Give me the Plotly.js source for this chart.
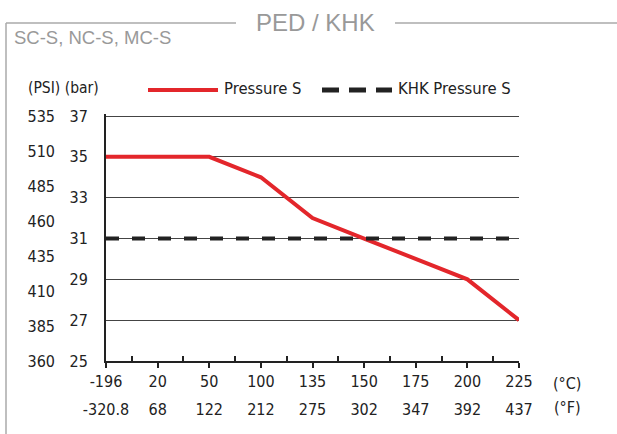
<!DOCTYPE html>
<html><head><meta charset="utf-8">
<script src="https://cdn.plot.ly/plotly-3.0.1.min.js"></script>
<style>html,body{margin:0;padding:0;background:#fff}</style>
</head><body><div id="chart" style="width:617px;height:434px"></div>
<script>
const tempC = ['-196','20','50','100','135','150','175','200','225'];
const tempF = ['-320.8','68','122','212','275','302','347','392','437'];
const pressureS = [35,35,35,34,32,31,30,29,27];
const khkPressureS = [31,31,31,31,31,31,31,31,31];
const barTicks = [25,27,29,31,33,35,37];
const psiTicks = [360,385,410,435,460,485,510,535];
const seriesNames = ['Pressure S','KHK Pressure S'];

const W = 617, H = 434;
const px = v => v / W;
const py = v => 1 - v / H;
const NARROW = "'DejaVu Sans Condensed','Liberation Sans Narrow',sans-serif";
const REG = "'Liberation Sans',Arial,sans-serif";
const TF = 16;
const idx = tempC.map((_, i) => i);
// small headroom above the top tick so its gridline is drawn
const barMin = 25, barMax = 37, pad = 0.1;
const psiMin = 360, psiMax = 535;
const psiPad = pad * (psiMax - psiMin) / (barMax - barMin);

const traces = [
  {x: idx, y: pressureS, type: 'scatter', mode: 'lines', name: seriesNames[0],
   line: {color: '#e3262b', width: 4}, hoverinfo: 'skip'},
  {x: idx, y: khkPressureS, type: 'scatter', mode: 'lines', name: seriesNames[1],
   line: {color: '#222', width: 4, dash: '13px,13px'}, hoverinfo: 'skip'},
  // empty trace so the secondary (°F / PSI) axes are drawn
  {x: [], y: [], xaxis: 'x2', yaxis: 'y2', type: 'scatter', mode: 'lines', showlegend: false, hoverinfo: 'skip'}
];

const layout = {
  width: W, height: H,
  margin: {l: 0, r: 0, t: 0, b: 0},
  paper_bgcolor: '#fff', plot_bgcolor: '#fff',
  showlegend: false,
  font: {family: NARROW, size: TF, color: '#222'},
  xaxis: {
    domain: [px(106), px(519)], range: [0, tempC.length - 1],
    tickmode: 'array', tickvals: idx, ticktext: tempC,
    ticks: 'outside', ticklen: 5, tickwidth: 2, tickcolor: '#222',
    minor: {tickmode: 'linear', tick0: 0.5, dtick: 1, ticks: 'inside', ticklen: 5, tickwidth: 2, tickcolor: '#222', showgrid: false},
    showline: true, linecolor: '#222', linewidth: 2,
    showgrid: false, zeroline: false, fixedrange: true,
    tickfont: {family: NARROW, size: TF, color: '#222'}
  },
  xaxis2: {
    overlaying: 'x', anchor: 'free', position: py(398),
    range: [0, tempC.length - 1],
    tickmode: 'array', tickvals: idx, ticktext: tempF,
    ticks: '', showline: false, showgrid: false, zeroline: false,
    tickfont: {family: NARROW, size: TF, color: '#222'}
  },
  yaxis: {
    domain: [py(361), py(114)], range: [barMin, barMax + pad],
    tickmode: 'array', tickvals: barTicks,
    ticks: '', showline: true, linecolor: '#222', linewidth: 2,
    showgrid: true, gridcolor: '#444', gridwidth: 1, zeroline: false,
    ticklabelstandoff: 13,
    tickfont: {family: NARROW, size: TF, color: '#222'}
  },
  yaxis2: {
    overlaying: 'y', anchor: 'free', side: 'left', position: px(55),
    range: [psiMin, psiMax + psiPad], tickmode: 'array', tickvals: psiTicks,
    ticks: '', showline: false, showgrid: false, zeroline: false,
    tickfont: {family: NARROW, size: TF, color: '#222'}
  },
  shapes: [
    {type: 'line', xref: 'paper', yref: 'paper', x0: px(6), x1: px(236), y0: py(23), y1: py(23), line: {color: '#aaa', width: 1.5}},
    {type: 'line', xref: 'paper', yref: 'paper', x0: px(395), x1: px(617), y0: py(23), y1: py(23), line: {color: '#aaa', width: 1.5}},
    {type: 'line', xref: 'paper', yref: 'paper', x0: px(6), x1: px(6), y0: py(23), y1: py(434), line: {color: '#aaa', width: 1.5}},
    {type: 'line', xref: 'paper', yref: 'paper', x0: px(148), x1: px(218), y0: py(90), y1: py(90), line: {color: '#e3262b', width: 4}},
    {type: 'line', xref: 'paper', yref: 'paper', x0: px(322), x1: px(392), y0: py(90), y1: py(90), line: {color: '#222', width: 5, dash: '17px,10px'}}
  ],
  annotations: [
    {text: 'PED / KHK', xref: 'paper', yref: 'paper', x: px(315), y: py(22), xanchor: 'center', yanchor: 'middle', showarrow: false,
     font: {family: REG, size: 24, color: '#999'}},
    {text: 'SC-S, NC-S, MC-S', xref: 'paper', yref: 'paper', x: px(12), y: py(38), xanchor: 'left', yanchor: 'middle', showarrow: false,
     font: {family: REG, size: 18.5, color: '#999'}},
    {text: '(PSI) (bar)', xref: 'paper', yref: 'paper', x: px(26), y: py(88), xanchor: 'left', yanchor: 'middle', showarrow: false,
     font: {family: NARROW, size: 15.5, color: '#222'}},
    {text: seriesNames[0], xref: 'paper', yref: 'paper', x: px(222), y: py(89), xanchor: 'left', yanchor: 'middle', showarrow: false,
     font: {family: NARROW, size: 16.5, color: '#222'}},
    {text: seriesNames[1], xref: 'paper', yref: 'paper', x: px(396), y: py(89), xanchor: 'left', yanchor: 'middle', showarrow: false,
     font: {family: NARROW, size: 16.5, color: '#222'}},
    {text: '(°C)', xref: 'paper', yref: 'paper', x: px(567), y: py(383), xanchor: 'center', yanchor: 'middle', showarrow: false,
     font: {family: NARROW, size: TF, color: '#222'}},
    {text: '(°F)', xref: 'paper', yref: 'paper', x: px(567), y: py(407), xanchor: 'center', yanchor: 'middle', showarrow: false,
     font: {family: NARROW, size: TF, color: '#222'}}
  ]
};

Plotly.newPlot('chart', traces, layout, {staticPlot: true, displayModeBar: false});
</script></body></html>
